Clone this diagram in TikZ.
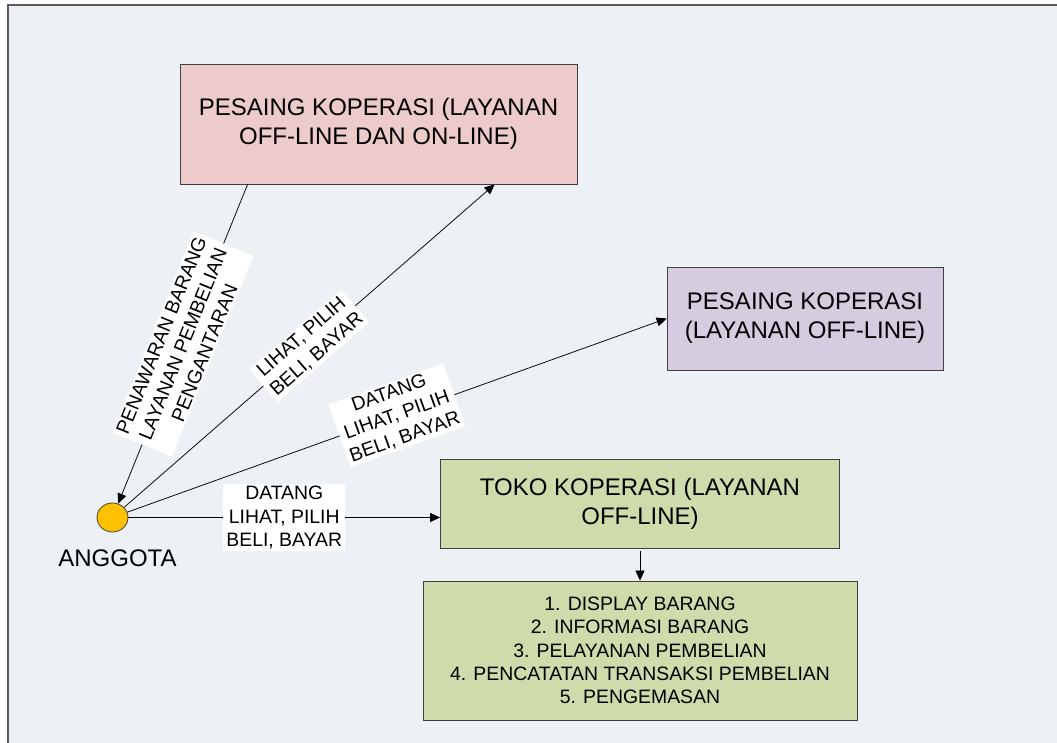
\documentclass[tikz,border=0pt]{standalone}
\usepackage{fontspec}
\setmainfont{Liberation Sans}
\usetikzlibrary{arrows.meta,shapes.geometric,calc}
\definecolor{bgc}{HTML}{EDF0F5}
\definecolor{framec}{HTML}{5A5A5A}
\definecolor{boxline}{HTML}{404040}
\definecolor{pinkc}{HTML}{ECCBCA}
\definecolor{purplec}{HTML}{D6CCE0}
\definecolor{greenc}{HTML}{CDDCAA}
\definecolor{circc}{HTML}{FFC000}
\tikzset{
  box/.style={draw=boxline, line width=0.8pt, align=center, inner sep=0pt,
    font=\fontsize{24}{28.8}\selectfont},
  lbl/.style={fill=white, align=center, inner xsep=3pt, inner ysep=2pt, sloped,
    font=\fontsize{19.4}{23.3}\selectfont},
  arr/.style={line width=0.75pt, -{Triangle[length=10pt,width=9pt]}},
  plain/.style={line width=0.75pt}
}
\begin{document}
\begin{tikzpicture}[x=1pt,y=-1pt]
\useasboundingbox (0,0) rectangle (1057,743);
\fill[white] (0,0) rectangle (1057,743);
\fill[bgc] (8,5) rectangle (1057,743);
\draw[framec, line width=1.5pt] (8,743) -- (8,5) -- (1057,5);

\node[box, fill=pinkc, minimum width=397pt, minimum height=120pt] (pink) at (378.5,124)
  {PESAING KOPERASI (LAYANAN\\OFF-LINE DAN ON-LINE)};
\node[box, fill=purplec, minimum width=276pt, minimum height=103pt] (purple) at (805,318.5)
  {PESAING KOPERASI\\(LAYANAN OFF-LINE)};
\node[box, fill=greenc, minimum width=399pt, minimum height=89pt] (toko) at (640,503.5)
  {TOKO KOPERASI (LAYANAN\\OFF-LINE)};
\node[box, fill=greenc, minimum width=434pt, minimum height=139pt,
  font=\fontsize{19.4}{23.3}\selectfont] (list) at (640,650.5)
  {1. DISPLAY BARANG\\2. INFORMASI BARANG\\3. PELAYANAN PEMBELIAN\\4. PENCATATAN TRANSAKSI PEMBELIAN\\5. PENGEMASAN};

\node[ellipse, draw=boxline, line width=0.8pt, fill=circc, minimum width=31pt,
  minimum height=29pt, inner sep=0pt] (anggota) at (112.5,517.5) {};
\node[anchor=base, font=\fontsize{24}{28.8}\selectfont] (anglbl) at (117.5,566) {ANGGOTA};

\coordinate (pinkout) at ([xshift=68pt]pink.south west);
\coordinate (pinkin) at ([xshift=315pt]pink.south west);

\draw[arr] (pinkout) -- node[lbl] {PENAWARAN BARANG\\LAYANAN PEMBELIAN\\PENGANTARAN} (anggota);
\draw[arr] (anggota) -- node[lbl] {LIHAT, PILIH\\BELI, BAYAR} (pinkin);
\draw[arr] (anggota) -- node[lbl] {DATANG\\LIHAT, PILIH\\BELI, BAYAR} (purple.west);
\draw[arr] (anggota.east) -- node[lbl] {DATANG\\LIHAT, PILIH\\BELI, BAYAR} (anggota.east -| toko.west);
\draw[arr, shorten <=3pt] (toko.south) -- (list.north);
\end{tikzpicture}
\end{document}
